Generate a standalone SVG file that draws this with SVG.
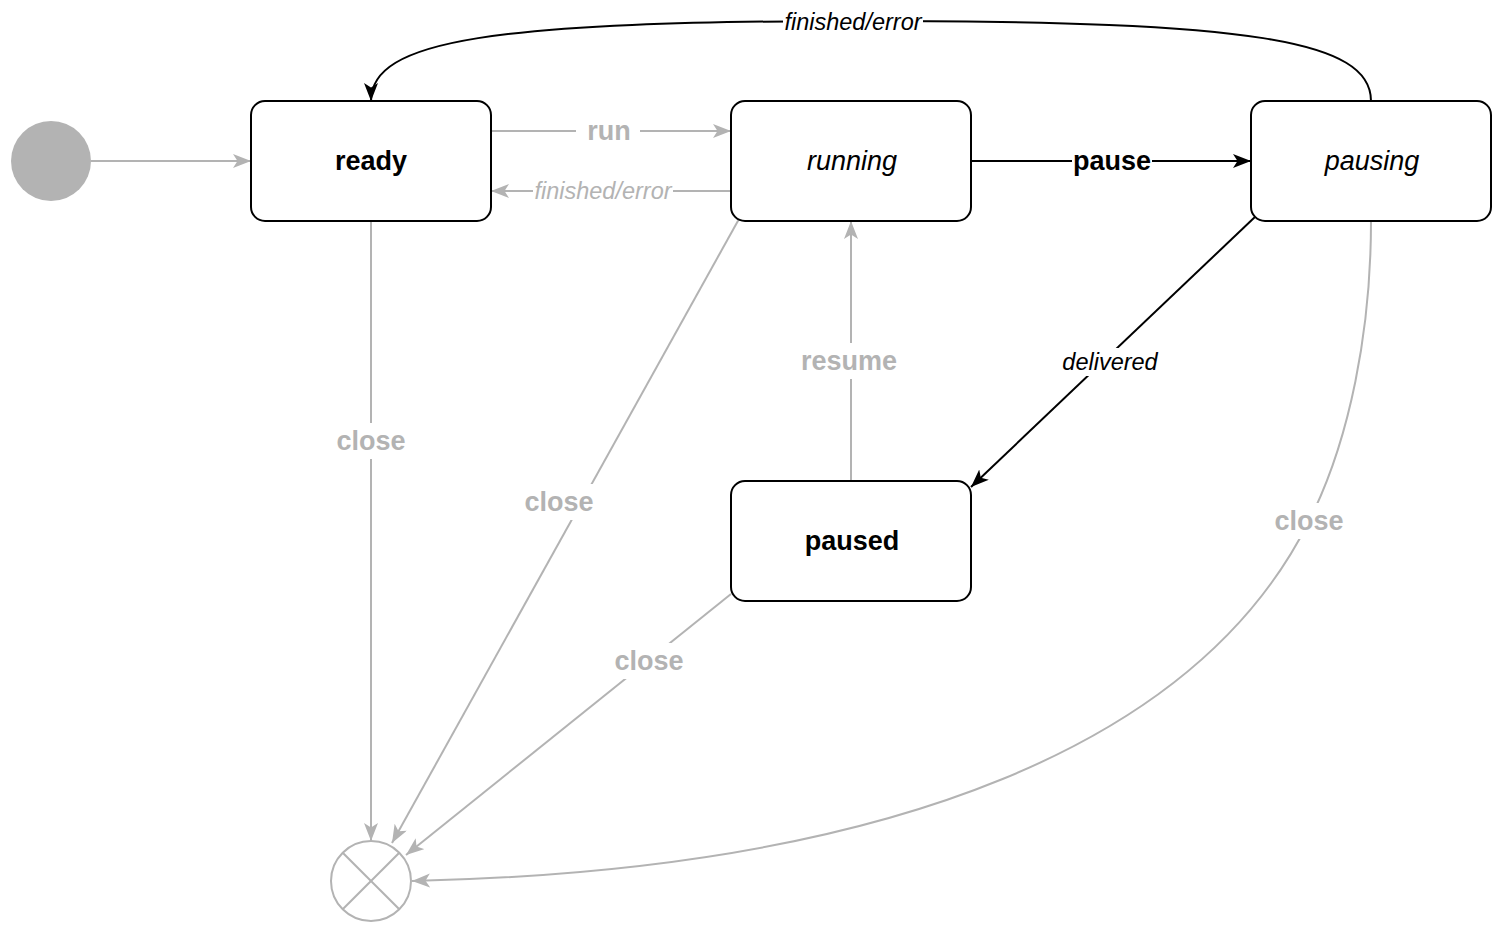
<svg xmlns="http://www.w3.org/2000/svg" width="1502" height="932" viewBox="0 0 1502 932">
<style>
.node rect{fill:#fff;stroke:#000;stroke-width:2}
.nt{font-family:"Liberation Sans",Arial,sans-serif;font-size:27px;text-anchor:middle;dominant-baseline:central;fill:#000}
.b{font-weight:bold}
.i{font-style:italic}
.g{stroke:#b3b3b3;stroke-width:2;fill:none}
.k{stroke:#000;stroke-width:2;fill:none}
.lbl{font-family:"Liberation Sans",Arial,sans-serif;text-anchor:middle;dominant-baseline:central}
.lg{fill:#b3b3b3}
.lk{fill:#000}
.bg{fill:#fff}
</style>
<defs>
<marker id="ag" markerUnits="userSpaceOnUse" markerWidth="20" markerHeight="16" refX="18" refY="7" orient="auto" viewBox="0 0 20 16">
<path d="M0,0 L18,7 L0,14 L4.5,7 z" fill="#b3b3b3"/>
</marker>
<marker id="ak" markerUnits="userSpaceOnUse" markerWidth="20" markerHeight="16" refX="18" refY="7" orient="auto" viewBox="0 0 20 16">
<path d="M0,0 L18,7 L0,14 L4.5,7 z" fill="#000"/>
</marker>
</defs>
<rect width="1502" height="932" fill="#fff"/>
<g id="connectors">
<line class="g" x1="91" y1="161" x2="251" y2="161" marker-end="url(#ag)"/>
<line class="g" x1="491" y1="131" x2="731" y2="131" marker-end="url(#ag)"/>
<rect class="bg" x="576" y="116" width="64" height="30"/>
<text class="lbl lg b" x="609" y="131" font-size="27">run</text>
<line class="g" x1="731" y1="191" x2="491" y2="191" marker-end="url(#ag)"/>
<rect class="bg" x="533" y="178" width="140" height="26"/>
<text class="lbl lg i" x="603" y="191" font-size="23.5">finished/error</text>
<line class="k" x1="971" y1="161" x2="1251" y2="161" marker-end="url(#ak)"/>
<rect class="bg" x="1072" y="146" width="80" height="30"/>
<text class="lbl lk b" x="1112" y="161" font-size="27">pause</text>
<path class="k" d="M1371,101 C1371,40 1250,21 871,21 C490,21 371,40 371,101" marker-end="url(#ak)"/>
<rect class="bg" x="783" y="9" width="140" height="26"/>
<text class="lbl lk i" x="853" y="22" font-size="23.5">finished/error</text>
<line class="k" x1="1256" y1="216" x2="971" y2="487" marker-end="url(#ak)"/>
<rect class="bg" x="1060" y="348" width="100" height="28"/>
<text class="lbl lk i" x="1110" y="362" font-size="23.5">delivered</text>
<line class="g" x1="851" y1="481" x2="851" y2="221" marker-end="url(#ag)"/>
<rect class="bg" x="798" y="343" width="104" height="36"/>
<text class="lbl lg b" x="849" y="361" font-size="27">resume</text>
<line class="g" x1="371" y1="221" x2="371" y2="841" marker-end="url(#ag)"/>
<rect class="bg" x="334" y="423" width="74" height="36"/>
<text class="lbl lg b" x="371" y="441" font-size="27">close</text>
<line class="g" x1="739" y1="219" x2="392" y2="843" marker-end="url(#ag)"/>
<rect class="bg" x="522" y="484" width="74" height="36"/>
<text class="lbl lg b" x="559" y="502" font-size="27">close</text>
<line class="g" x1="731" y1="594" x2="406" y2="855" marker-end="url(#ag)"/>
<rect class="bg" x="612" y="643" width="74" height="36"/>
<text class="lbl lg b" x="649" y="661" font-size="27">close</text>
<path class="g" d="M1371,221 C1371,330 1350,440 1309,521 C1200,740 900,870 412,881" marker-end="url(#ag)"/>
<rect class="bg" x="1272" y="503" width="74" height="36"/>
<text class="lbl lg b" x="1309" y="521" font-size="27">close</text>
</g>
<g id="initial">
<circle cx="51" cy="161" r="40" fill="#b3b3b3"/>
</g>
<g id="ready" class="node">
<rect x="251" y="101" width="240" height="120" rx="14"/>
<text class="nt b" x="371" y="161">ready</text>
</g>
<g id="running" class="node">
<rect x="731" y="101" width="240" height="120" rx="14"/>
<text class="nt i" x="852" y="161">running</text>
</g>
<g id="pausing" class="node">
<rect x="1251" y="101" width="240" height="120" rx="14"/>
<text class="nt i" x="1372" y="161">pausing</text>
</g>
<g id="paused" class="node">
<rect x="731" y="481" width="240" height="120" rx="14"/>
<text class="nt b" x="852" y="541">paused</text>
</g>
<g id="final">
<circle cx="371" cy="881" r="40" fill="#fff" stroke="#b3b3b3" stroke-width="2"/>
<line x1="342.7" y1="852.7" x2="399.3" y2="909.3" stroke="#b3b3b3" stroke-width="2"/>
<line x1="399.3" y1="852.7" x2="342.7" y2="909.3" stroke="#b3b3b3" stroke-width="2"/>
</g>
</svg>
